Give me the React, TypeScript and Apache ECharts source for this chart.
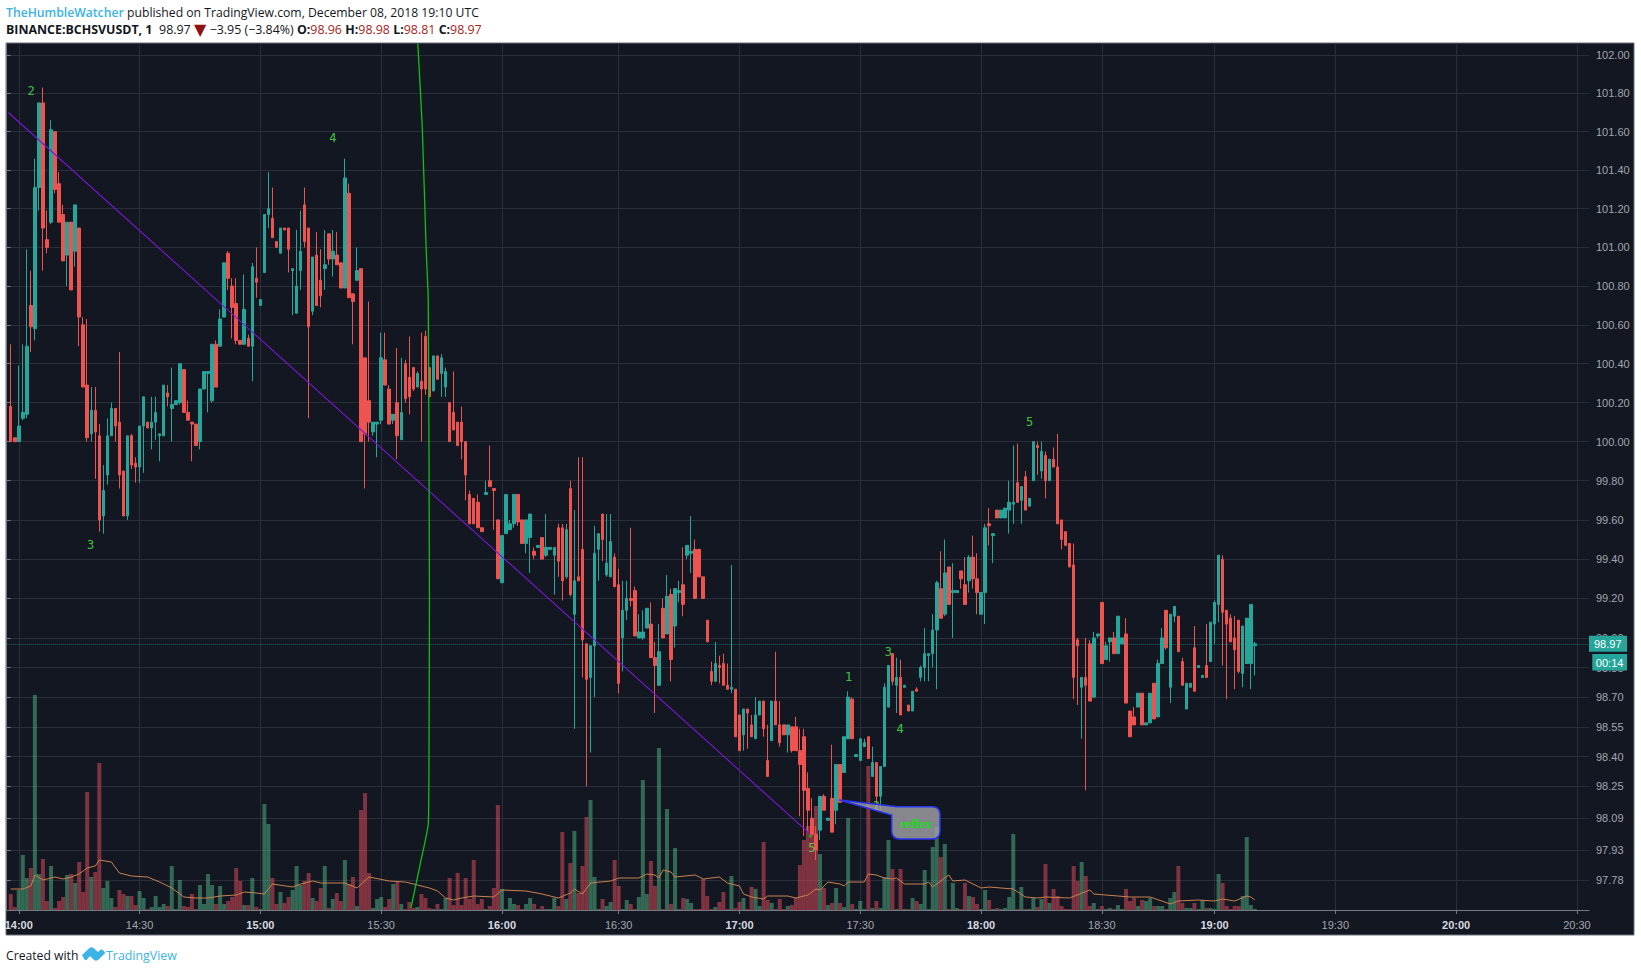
import React, { useEffect, useRef } from "react";
import * as echarts from "echarts";

// [open, close, low, high], one row per minute
const ohlc1400: number[][] = [
[100.18,100.00,100.00,100.50],[100.02,100.00,100.00,100.02],[100.00,100.08,100.00,100.39],[100.12,100.15,100.11,100.50],[100.14,100.49,100.12,100.99],
[100.70,100.59,100.46,100.88],[100.58,101.31,100.52,101.46],[101.31,101.75,101.19,101.75],[101.75,101.10,100.88,101.83],[101.04,101.00,100.97,101.19],
[101.13,101.61,101.12,101.66],[101.60,101.30,101.28,101.60],[101.33,101.13,101.13,101.39],[101.17,100.93,100.93,101.22],[100.96,101.13,100.80,101.13],
[101.13,100.78,100.78,101.13],[100.98,101.22,100.90,101.22],[101.10,100.64,100.49,101.10],[100.60,100.28,100.28,100.64],[100.29,100.02,100.00,100.63],
[100.04,100.16,100.00,100.28],[100.16,100.05,99.81,100.28],[100.03,99.60,99.54,100.09],[99.62,99.75,99.53,99.88],[99.83,100.03,99.78,100.12],
[100.03,100.17,100.03,100.20],[100.17,100.08,100.00,100.17],[100.10,99.83,99.76,100.46],[99.85,99.62,99.62,99.85],[99.62,100.03,99.60,100.03],
[100.03,99.88,99.86,100.04],[99.89,99.87,99.79,99.92],[99.87,100.08,99.79,100.08],[100.08,100.23,99.84,100.23],[100.10,100.07,100.07,100.10],
[100.07,100.10,99.96,100.23],[100.10,100.15,100.01,100.23],[100.03,100.04,99.90,100.04],[100.03,100.29,100.03,100.29],[100.25,100.23,100.18,100.29],
[100.17,100.19,100.00,100.38],[100.19,100.21,100.19,100.21],[100.20,100.40,100.19,100.40],[100.37,100.15,100.15,100.37],[100.15,100.11,100.11,100.21],
[100.10,100.09,99.90,100.10],[100.09,99.98,99.98,100.09],[100.00,100.27,99.96,100.27],[100.27,100.36,100.27,100.36],[100.35,100.36,100.15,100.36],
[100.21,100.50,100.20,100.50],[100.50,100.28,100.28,100.52],[100.49,100.63,100.49,100.68],[100.64,100.92,100.64,100.92],[100.97,100.84,100.78,100.98],
[100.80,100.69,100.53,100.84],[100.71,100.52,100.50,100.84],[100.52,100.50,100.50,100.52],[100.50,100.68,100.50,100.86],[100.53,100.49,100.49,100.55],
];
const ohlc1500: number[][] = [
[100.49,100.90,100.31,100.92],[100.84,100.82,100.74,101.00],[100.70,100.73,100.70,100.73],[100.87,101.17,100.87,101.17],[101.17,101.20,101.10,101.39],
[101.15,101.05,101.05,101.31],[101.03,101.00,101.00,101.03],[100.97,101.10,100.97,101.10],[101.10,101.09,101.09,101.10],[101.10,100.99,100.87,101.10],
[100.88,100.89,100.65,100.89],[100.66,100.80,100.66,101.09],[100.88,100.98,100.78,101.19],[101.22,101.03,101.00,101.31],[101.10,100.59,100.12,101.10],
[100.67,100.95,100.65,100.95],[100.96,100.70,100.70,101.08],[100.83,100.75,100.69,100.99],[100.89,100.91,100.78,101.09],[101.07,100.94,100.91,101.07],
[100.94,100.98,100.85,101.09],[100.96,100.91,100.91,101.08],[100.92,100.79,100.79,100.92],[100.79,101.36,100.79,101.46],[101.28,100.74,100.74,101.33],
[100.76,100.72,100.50,100.76],[100.83,100.88,100.83,101.00],[100.89,100.00,100.00,100.89],[100.43,100.04,99.76,100.43],[100.21,100.10,100.00,100.72],
[100.05,100.10,100.03,100.10],[100.09,100.10,99.92,100.10],[100.11,100.43,100.09,100.56],[100.42,100.29,100.29,100.56],[100.27,100.09,100.09,100.29],
[100.11,100.14,100.09,100.14],[100.20,100.03,99.91,100.48],[100.01,100.15,100.01,100.43],[100.40,100.22,100.20,100.42],[100.33,100.23,100.14,100.54],
[100.38,100.27,100.26,100.38],[100.28,100.35,100.28,100.36],[100.31,100.27,100.00,100.56],[100.54,100.27,100.24,100.57],[100.38,100.23,100.23,100.38],
[100.26,100.44,100.26,100.44],[100.44,100.32,100.32,100.44],[100.35,100.43,100.23,100.45],[100.28,100.36,100.23,100.38],[100.20,100.00,100.00,100.20],
[100.15,100.06,100.06,100.36],[100.10,99.98,99.98,100.10],[100.10,100.00,99.91,100.18],[100.00,99.83,99.70,100.00],[99.73,99.58,99.58,99.75],
[99.71,99.58,99.58,99.71],[99.69,99.56,99.56,99.73],[99.56,99.54,99.54,99.56],[99.73,99.74,99.73,99.80],[99.80,99.77,99.77,99.98],
];
const ohlc1600: number[][] = [
[99.76,99.75,99.55,99.76],[99.60,99.30,99.30,99.60],[99.28,99.52,99.28,99.52],[99.53,99.73,99.53,99.73],[99.55,99.58,99.55,99.60],
[99.58,99.73,99.56,99.73],[99.73,99.59,99.57,99.73],[99.60,99.48,99.48,99.60],[99.48,99.60,99.43,99.60],[99.51,99.63,99.33,99.63],
[99.44,99.42,99.40,99.46],[99.46,99.47,99.46,99.47],[99.51,99.40,99.40,99.51],[99.42,99.46,99.41,99.63],[99.45,99.46,99.45,99.46],
[99.42,99.46,99.22,99.46],[99.56,99.39,99.31,99.58],[99.56,99.29,99.19,99.58],[99.31,99.55,99.30,99.58],[99.76,99.22,99.21,99.80],
[99.12,99.29,98.54,99.65],[99.31,99.29,99.29,99.92],[99.45,98.99,98.80,99.92],[98.97,98.79,98.25,98.97],[98.80,98.96,98.42,98.96],
[98.96,99.43,98.70,99.57],[99.45,99.53,99.29,99.53],[99.63,99.50,99.39,99.63],[99.32,99.38,99.31,99.63],[99.31,99.49,99.31,99.63],
[99.41,99.26,99.26,99.43],[99.27,98.77,98.72,99.35],[99.00,99.14,98.83,99.29],[99.14,99.20,99.09,99.29],[99.20,99.19,99.16,99.56],
[99.24,99.01,99.01,99.26],[99.00,99.03,99.00,99.12],[99.00,99.03,98.99,99.14],[99.05,99.15,99.05,99.15],[99.07,98.90,98.90,99.18],
[98.90,98.86,98.62,98.98],[98.76,98.93,98.76,99.07],[99.15,99.00,99.00,99.20],[99.02,99.21,99.02,99.32],[99.22,98.89,98.78,99.25],
[99.06,99.25,98.95,99.25],[99.23,99.24,99.18,99.29],[99.27,99.17,99.11,99.46],[99.42,99.47,99.40,99.47],[99.43,99.44,99.33,99.62],
[99.45,99.20,99.20,99.50],[99.45,99.31,99.31,99.45],[99.31,99.20,99.20,99.31],[99.09,98.98,98.98,99.09],[98.83,98.78,98.76,98.88],
[98.78,98.87,98.78,98.98],[98.86,98.85,98.77,98.91],[98.87,98.76,98.76,98.92],[98.76,98.74,98.74,98.87],
];
const ohlc1700: number[][] = [
[98.74,98.75,98.72,99.37],[98.74,98.50,98.50,98.74],[98.61,98.43,98.43,98.61],[98.51,98.64,98.43,98.64],[98.64,98.62,98.44,98.64],
[98.56,98.50,98.50,98.61],[98.49,98.61,98.49,98.70],[98.61,98.68,98.61,98.68],[98.68,98.54,98.50,98.68],[98.38,98.30,98.30,98.56],
[98.48,98.68,98.48,98.68],[98.68,98.56,98.56,98.93],[98.56,98.47,98.45,98.68],[98.56,98.51,98.51,98.56],[98.51,98.56,98.42,98.56],
[98.55,98.43,98.42,98.55],[98.55,98.43,98.43,98.60],[98.43,98.36,98.10,98.54],[98.50,98.23,98.00,98.54],[98.24,98.13,98.02,98.32],
[98.09,98.01,98.00,98.19],[98.01,97.93,97.88,98.05],[98.03,98.20,97.98,98.20],[98.20,98.13,98.13,98.21],[98.08,98.09,98.08,98.09],
[98.19,98.02,98.02,98.46],[98.13,98.36,98.06,98.36],[98.36,98.17,98.17,98.36],[98.32,98.50,98.32,98.50],[98.49,98.70,98.49,98.73],
[98.69,98.49,98.49,98.70],[98.40,98.41,98.40,98.41],[98.38,98.49,98.38,98.49],[98.45,98.47,98.45,98.49],[98.50,98.39,98.39,98.50],
[98.30,98.37,98.30,98.45],[98.37,98.20,98.13,98.37],[98.20,98.35,98.13,98.35],[98.35,98.75,98.35,98.77],[98.65,98.86,98.65,98.86],
[98.92,98.78,98.76,98.92],[98.76,98.80,98.62,98.90],[98.80,98.61,98.61,98.89],[98.75,98.76,98.75,98.76],[98.66,98.63,98.63,98.66],
[98.63,98.73,98.63,98.73],[98.74,98.73,98.73,98.75],[98.80,98.85,98.78,98.86],[98.85,98.92,98.78,99.05],[98.91,98.92,98.78,98.92],
[98.92,99.04,98.85,99.12],[99.04,99.28,98.74,99.29],[99.25,99.10,99.10,99.44],[99.12,99.33,99.11,99.50],[99.36,99.17,99.17,99.36],
[99.23,99.24,99.00,99.38],[99.23,99.24,99.23,99.24],[99.34,99.30,99.25,99.34],[99.27,99.17,99.17,99.41],[99.29,99.41,99.23,99.42],
];
const ohlc1800: number[][] = [
[99.41,99.30,99.25,99.52],[99.30,99.23,99.12,99.43],[99.12,99.23,99.12,99.23],[99.23,99.56,99.07,99.58],[99.58,99.57,99.47,99.66],
[99.52,99.53,99.38,99.53],[99.65,99.61,99.61,99.65],[99.61,99.65,99.61,99.65],[99.61,99.66,99.61,99.66],[99.65,99.69,99.53,99.80],
[99.68,99.69,99.58,99.98],[99.79,99.69,99.69,99.99],[99.70,99.77,99.58,99.77],[99.82,99.65,99.65,99.85],[99.67,99.71,99.67,99.71],
[99.80,100.00,99.80,100.00],[99.98,99.97,99.83,100.00],[99.85,99.95,99.81,100.00],[99.93,99.80,99.71,99.95],[99.80,99.91,99.80,99.91],
[99.91,99.87,99.87,99.97],[99.87,99.58,99.58,100.04],[99.60,99.50,99.45,99.60],[99.54,99.47,99.47,99.54],[99.48,99.36,99.36,99.48],
[99.37,98.80,98.69,99.48],[98.99,98.96,98.66,99.00],[98.75,98.80,98.49,98.80],[98.80,98.76,98.23,99.00],[98.97,98.68,98.68,98.99],
[98.70,99.00,98.70,99.03],[99.01,99.02,99.00,99.02],[99.18,98.87,98.87,99.18],[98.89,98.96,98.89,98.98],[98.98,99.00,98.88,99.00],
[99.00,98.92,98.92,99.03],[98.92,99.11,98.92,99.11],[98.97,99.00,98.97,99.00],[99.02,98.67,98.67,99.10],[98.63,98.50,98.50,98.63],
[98.60,98.56,98.56,98.65],[98.65,98.72,98.65,98.72],[98.72,98.56,98.56,98.72],[98.56,98.57,98.56,98.57],[98.57,98.72,98.57,98.72],
[98.77,98.59,98.59,98.77],[98.60,98.87,98.60,98.89],[98.87,99.00,98.87,99.05],[99.14,98.95,98.94,99.14],[98.75,99.12,98.67,99.12],
[99.11,99.16,99.08,99.16],[99.11,98.93,98.93,99.11],[98.88,98.76,98.76,98.90],[98.64,98.77,98.64,98.77],[98.75,98.77,98.75,98.77],
[98.95,98.73,98.73,99.06],[98.85,98.86,98.85,98.86],[98.80,98.81,98.80,98.81],[98.86,98.80,98.80,99.07],[98.88,99.08,98.88,99.08],
];
const ohlc1900: number[][] = [
[99.07,99.18,98.97,99.19],[99.17,99.42,99.08,99.42],[99.40,99.13,98.86,99.42],[99.14,99.07,98.69,99.14],[99.10,98.98,98.98,99.12],
[99.00,98.94,98.74,99.11],[99.09,98.83,98.82,99.09],[98.82,99.06,98.75,99.06],[98.87,99.10,98.87,99.10],[98.87,99.17,98.74,99.17],
[98.96,98.97,98.81,98.98],
];

// volume, in the picture's relative units, one value per candle
const volume1400 = [16,3,20,55,32,42,215,36,51,9,44,2,9,13,35,36,27,48,18,118,33,38,147,22,29,12,3,20,16,14,14,5,19,12,1,3,14,3,6,4,44,1,30,4,3,16,1,25,6,36,25,6,24,6,9,13,42,29,5,5];
const volume1500 = [32,3,1,106,86,32,6,18,7,13,20,44,25,29,37,12,9,22,44,2,11,17,9,50,26,33,4,100,117,37,2,11,13,3,11,26,28,6,1,8,2,3,16,12,2,1,6,1,12,32,5,37,5,32,11,50,6,11,1,4];
const volume1600 = [22,105,21,1,12,6,5,1,6,12,6,1,4,1,1,12,4,78,11,47,79,17,44,93,110,33,1,11,4,8,50,24,1,10,6,1,13,130,16,49,24,162,1,101,6,62,1,12,11,7,1,1,31,14,1,3,8,18,1];
const volume1700 = [34,2,8,12,1,23,21,4,68,10,7,1,11,1,4,5,12,45,70,84,76,104,56,22,5,7,22,7,3,92,6,1,9,1,144,2,9,2,33,70,41,1,41,1,1,12,9,6,40,1,63,83,53,66,1,27,2,1,27,14];
const volume1800 = [13,6,1,20,10,1,2,1,2,13,76,1,23,1,1,12,3,11,46,7,21,14,4,1,1,44,29,48,34,4,7,1,4,1,2,1,5,1,21,9,12,4,10,9,12,4,4,4,1,12,18,44,7,2,2,7,1,10,2,2];
const volume1900 = [1,36,27,4,1,4,4,14,73,5,1];

// moving average of volume: [minute index, value], read at its bends
const volumeAverage: number[][] = [
[1,21],[4,21],[6,24],[7,35],[9,30],[12,33],[14,31],[16,33],[18,36],[20,42],[22,44],[23,50],[26,48],[28,37],[31,34],[35,33],[38,28],[41,22],[44,13],[47,12],[50,12],[53,14],[57,15],[59,18],[62,17],[64,16],[66,26],[71,23],[73,26],[76,29],[78,27],[84,27],[87,22],[90,33],[95,29],[99,28],[102,25],
[105,22],[107,19],[109,12],[111,10],[113,12],[116,14],[121,13],[123,20],[129,19],[133,16],[137,12],[140,17],[141,21],[143,16],[145,27],[150,29],[152,32],[157,32],[159,36],[161,35],[162,32],[163,40],[165,38],[166,33],[171,35],[173,31],[177,33],[179,27],[182,24],[183,16],[185,13],[188,11],[189,14],[194,14],[196,12],[199,15],[201,21],[202,20],[204,28],
[207,26],[208,24],[209,28],[213,28],[214,36],[216,35],[218,32],[220,31],[221,32],[223,26],[228,26],[229,28],[230,23],[234,35],[235,29],[238,30],[242,22],[244,23],[247,22],[250,21],[253,13],[256,12],[258,13],[264,12],[269,20],[270,16],[276,14],[279,13],[284,13],[289,6],[291,9],[296,10],[300,9],[302,11],[305,9],[308,14],[309,13],[310,10],
];

// drawings on the chart: [minute index, price]
const trendLine = [[0.4, 101.7],[199.6, 98.01]];
const greenCurve = [[100.4,97.64],[102.7,97.86],[104.7,98.06],[104.9,98.48],[105,99.19],[104.7,100.73],[104.2,100.98],[103.2,101.63],[102.1,102.06]];
const waveLabels: [string, number, number][] = [
["2",6.04,101.81],["4",81,101.565],["3",20.87,99.47],["5",254.07,100.10],["1",209.1,98.80],["2",216,98.15],["3",218.95,98.93],["4",221.9,98.54],["5",200,97.94],
];
const trendEndDot = [[199.6, 98.0]];

const priceTicks = [102,101.8,101.6,101.4,101.2,101,100.8,100.6,100.4,100.2,100,99.8,99.6,99.4,99.2,99,98.85,98.7,98.55,98.4,98.25,98.09,97.93,97.78];
const priceMin = 97.63;
const priceMax = 102.06;
const lastPrice = 98.97;
const timeLabels = ["14:00","14:30","15:00","15:30","16:00","16:30","17:00","17:30","18:00","18:30","19:00","19:30","20:00","20:30"];
const skippedMinutes = [16*60+15, 18*60+45, 18*60+46];
const firstMinute = 13*60+57;
const lastMinute = 20*60+33;

const TEAL = "#26a69a";
const RED = "#ef5350";
const UI_FONT = "'Open Sans', sans-serif";
const AXIS_FONT = "'Liberation Sans', Arial, sans-serif";
const GREEN_TEXT = "#4cf04c";

const pad = (n: number) => String(n).padStart(2, "0");
const categories: string[] = [];
for (let m = firstMinute; m <= lastMinute; m++) {
  if (!skippedMinutes.includes(m)) categories.push(`${pad(Math.floor(m / 60))}:${pad(m % 60)}`);
}
const logPrice = (p: number) => Math.log(p);

echarts.graphic.registerShape(
  "balloon",
  echarts.graphic.extendPath(
    "M897 806.7 L932 806.7 Q940 806.7 940 814.7 L940 831 Q940 839 932 839 L900 839 Q891.7 839 891.7 831 L891.7 815 L839.3 800 Z",
    {}
  )
);
echarts.graphic.registerShape(
  "tvLogo",
  echarts.graphic.extendPath(
    "M82 955 L89.5 948 Q91.5 946.5 93.5 948 L98 952 L100 950 Q101.5 949 103 950 L105.3 953 L98 960 Q96 961.2 94 960 L90 956 L87 959.5 Q86 960.7 84.5 959.5 Z",
    {}
  )
);

export default function App() {
  const ref = useRef<HTMLDivElement>(null);
  useEffect(() => {
    const chart = echarts.init(ref.current!, undefined, { renderer: "svg" });
    const ohlc = [...ohlc1400, ...ohlc1500, ...ohlc1600, ...ohlc1700, ...ohlc1800, ...ohlc1900];
    const volumes = [...volume1400, ...volume1500, ...volume1600, ...volume1700, ...volume1800, ...volume1900];
    const isTick = (_: number, name: string) => timeLabels.includes(name);

    const candleData: any[] = [["-", "-", "-", "-"], ...ohlc.map((r) => r.map(logPrice))];
    const volumeData: any[] = [
      { value: 0 },
      ...volumes.map((v, i) => {
        const r = ohlc[i] || [0, 0];
        return { value: v, itemStyle: { color: r[1] >= r[0] ? "#53b987" : "#eb4d5c", opacity: 0.5 } };
      }),
    ];

    chart.setOption({
      animation: false,
      backgroundColor: "#ffffff",
      grid: { left: 6.7, right: 52, top: 43.5, bottom: 62, containLabel: false },
      xAxis: [
        {
          type: "category",
          data: categories,
          boundaryGap: false,
          axisLine: { show: true, lineStyle: { color: "#787b86", width: 1 } },
          axisTick: { show: true, interval: isTick, length: 4, lineStyle: { color: "#787b86" } },
          splitLine: { show: true, interval: isTick, lineStyle: { color: "#2a2e39", width: 1 } },
          axisLabel: {
            interval: isTick,
            margin: 9,
            color: "#a3a6af",
            fontFamily: AXIS_FONT,
            fontSize: 11,
            hideOverlap: false,
            formatter: (v: string) => (v.endsWith(":00") ? `{b|${v}}` : v),
            rich: { b: { color: "#d8dae0", fontWeight: "bold", fontFamily: AXIS_FONT, fontSize: 11 } },
          },
        },
        { type: "value", min: 0, max: categories.length - 1, show: false },
      ],
      yAxis: [
        {
          type: "value",
          position: "right",
          min: logPrice(priceMin),
          max: logPrice(priceMax),
          axisLine: { show: true, lineStyle: { color: "#787b86", width: 1 } },
          axisTick: { show: true, length: 4, customValues: priceTicks.map(logPrice), lineStyle: { color: "#787b86" } },
          splitLine: { show: true, lineStyle: { color: "#2a2e39", width: 1 } },
          axisLabel: {
            customValues: priceTicks.map(logPrice),
            margin: 7,
            padding: [2, 0, 0, 0],
            color: "#a3a6af",
            fontFamily: AXIS_FONT,
            fontSize: 11,
            formatter: (v: number) => Math.exp(v).toFixed(2),
          },
        },
        { type: "value", min: 0, max: 866.5, show: false, splitLine: { show: false } },
      ],
      series: [
        { type: "bar", name: "Volume", xAxisIndex: 0, yAxisIndex: 1, barWidth: 4, data: volumeData, z: 1 },
        {
          type: "line",
          name: "Volume MA",
          xAxisIndex: 1,
          yAxisIndex: 1,
          data: volumeAverage,
          symbol: "none",
          lineStyle: { color: "#c9824f", width: 1 },
          z: 2,
        },
        {
          type: "candlestick",
          name: "BCHSVUSDT",
          xAxisIndex: 0,
          yAxisIndex: 0,
          data: candleData,
          barWidth: 3,
          itemStyle: { color: TEAL, color0: RED, borderColor: TEAL, borderColor0: RED, borderWidth: 1 },
          z: 3,
          markLine: {
            silent: true,
            symbol: "none",
            animation: false,
            precision: 8,
            lineStyle: { color: "rgba(38,166,154,0.55)", type: "dotted", width: 1 },
            data: [{ yAxis: logPrice(lastPrice) }],
            label: {
              show: true,
              position: "end",
              distance: 0,
              formatter: () => lastPrice.toFixed(2),
              color: "#ffffff",
              backgroundColor: TEAL,
              fontFamily: AXIS_FONT,
              fontSize: 11,
              padding: [3, 3, 2, 5],
              width: 30,
              align: "left",
            },
          },
        },
        {
          type: "line",
          name: "Trend",
          xAxisIndex: 1,
          yAxisIndex: 0,
          data: trendLine.map(([x, p]) => [x, logPrice(p)]),
          symbol: "none",
          lineStyle: { color: "#7a17d0", width: 1.1 },
          z: 4,
        },
        {
          type: "line",
          name: "Curve",
          xAxisIndex: 1,
          yAxisIndex: 0,
          data: greenCurve.map(([x, p]) => [x, logPrice(p)]),
          symbol: "none",
          smooth: 0.15,
          lineStyle: { color: "#10c010", width: 1.3 },
          z: 4,
        },
        {
          type: "scatter",
          name: "Trend end",
          xAxisIndex: 1,
          yAxisIndex: 0,
          symbol: "circle",
          symbolSize: 3,
          itemStyle: { color: "#12c012" },
          data: trendEndDot.map(([x, p]) => [x, logPrice(p)]),
          z: 5,
        },
        {
          type: "scatter",
          name: "Waves",
          xAxisIndex: 1,
          yAxisIndex: 0,
          symbol: "circle",
          symbolSize: 1,
          itemStyle: { color: "transparent" },
          data: waveLabels.map(([t, x, p]) => ({
            value: [x, logPrice(p)],
            label: {
              show: true,
              formatter: t,
              position: "inside",
              color: GREEN_TEXT,
              fontSize: 12,
              fontFamily: "'DejaVu Sans Mono', monospace",
            },
          })),
          z: 6,
        },
      ],
      graphic: {
        elements: [
          { type: "rect", z: -10, silent: true, shape: { x: 6, y: 43, width: 1628, height: 892 }, style: { fill: "#131722", stroke: "#6b6e76", lineWidth: 1 } },
          { type: "rect", z: 20, shape: { x: 1592.3, y: 654, width: 34.7, height: 16.5 }, style: { fill: TEAL } },
          { type: "text", z: 21, x: 1609.6, y: 662.5, style: { text: "00:14", fill: "#ffffff", font: `11px ${AXIS_FONT}`, textAlign: "center", textVerticalAlign: "middle" } },
          { type: "balloon", z: 30, style: { fill: "rgba(160,160,165,0.82)", stroke: "#2b35f0", lineWidth: 1.5 } },
          { type: "text", z: 31, x: 916, y: 823, style: { text: "reflex", fill: "#12e012", font: "bold 13px 'Liberation Serif', serif", textAlign: "center", textVerticalAlign: "middle" } },
          {
            type: "text",
            z: 40,
            x: 6,
            y: 12.5,
            style: {
              text: "{u|TheHumbleWatcher} {t|published on TradingView.com, December 08, 2018 19:10 UTC}",
              textVerticalAlign: "middle",
              rich: {
                u: { fill: "#3bb3e4", font: `600 12.2px ${UI_FONT}` },
                t: { fill: "#131722", font: `12.2px ${UI_FONT}` },
              },
            },
          },
          {
            type: "text",
            z: 40,
            x: 6,
            y: 29.5,
            style: {
              text: "{b|BINANCE:BCHSVUSDT, 1}  {t|98.97} {a|▼} {t|−3.95 (−3.84%)} {b|O:}{r|98.96} {b|H:}{r|98.98} {b|L:}{r|98.81} {b|C:}{r|98.97}",
              textVerticalAlign: "middle",
              rich: {
                b: { fill: "#131722", font: `bold 12.4px ${UI_FONT}` },
                t: { fill: "#131722", font: `12.4px ${UI_FONT}` },
                r: { fill: "#a81c1c", font: `12.4px ${UI_FONT}` },
                a: { fill: "#8e1111", font: `16px 'DejaVu Sans', sans-serif` },
              },
            },
          },
          { type: "text", z: 40, x: 6, y: 955, style: { text: "Created with", fill: "#131722", font: `12.2px ${UI_FONT}`, textVerticalAlign: "middle" } },
          { type: "tvLogo", z: 40, style: { fill: "#3bb3e4" } },
          { type: "text", z: 40, x: 106, y: 955, style: { text: "TradingView", fill: "#3bb3e4", font: `12.4px ${UI_FONT}`, textVerticalAlign: "middle" } },
        ],
      },
    });
    return () => chart.dispose();
  }, []);
  return <div ref={ref} style={{ position: "absolute", left: 0, top: 0, width: 1641, height: 972 }} />;
}
